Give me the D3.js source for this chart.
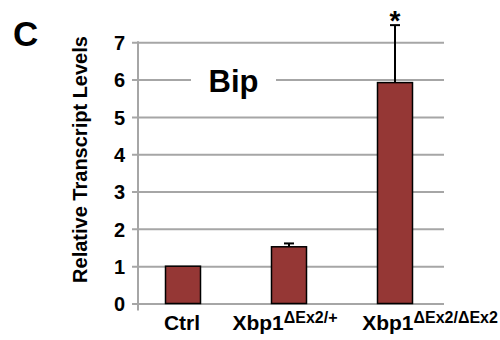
<!DOCTYPE html>
<html>
<head>
<meta charset="utf-8">
<script src="https://cdn.jsdelivr.net/npm/d3@7"></script>
<style>
    body { margin: 0; background: #fff; }
    svg text { font-family: "Liberation Sans", Arial, sans-serif; font-weight: bold; fill: #000; }
</style>
</head>
<body>
<div id="chart"></div>
<script>
// Data
const categories = ['Ctrl', 'Xbp1|ΔEx2/+', 'Xbp1|ΔEx2/ΔEx2'];
const values = [1.0, 1.52, 5.92];
const errors = [0, 0.09, 1.54];
const significant = [false, false, true];
const yTicks = [0, 1, 2, 3, 4, 5, 6, 7];

const cfg = {
    width: 500,
    height: 340,
    plotLeft: 132,
    axisX: 138,
    plotRight: 444,
    top: 42.3,
    bottom: 303.5,
    barWidth: 35,
    barColor: '#953735',
    gridColor: '#a6a6a6',
    // label nudges as laid out in the original figure
    labelDx: [-1, -4, 35],
};

const svg = d3.select('#chart').append('svg')
    .attr('width', cfg.width)
    .attr('height', cfg.height);

// Scales
const y = d3.scaleLinear().domain([0, 7]).range([cfg.bottom, cfg.top]);
const x = d3.scalePoint().domain(categories).range([183, 395]);

// Horizontal grid + tick labels
const grid = svg.append('g')
    .attr('transform', `translate(${cfg.plotLeft},0)`)
    .call(d3.axisLeft(y)
        .tickValues(yTicks)
        .tickFormat(d3.format('d'))
        .tickSize(-(cfg.plotRight - cfg.plotLeft))
        .tickPadding(7));
grid.select('.domain').remove();
grid.selectAll('line').attr('stroke', cfg.gridColor).attr('stroke-width', 2);
grid.selectAll('text').style('font-size', '20px').attr('dy', '0.36em');

// Vertical axis line
svg.append('line')
    .attr('x1', cfg.axisX).attr('x2', cfg.axisX)
    .attr('y1', y(7) - 1).attr('y2', y(0) + 7)
    .attr('stroke', cfg.gridColor).attr('stroke-width', 2);

// Title over the grid with white backing
svg.append('rect')
    .attr('x', 191).attr('y', y(6) - 3)
    .attr('width', 85).attr('height', 6)
    .attr('fill', '#fff');
svg.append('text')
    .attr('x', 233.5).attr('y', 91.7)
    .attr('text-anchor', 'middle')
    .style('font-size', '31px')
    .text('Bip');

// Bars
const items = categories.map((c, i) => ({key: c, value: values[i], err: errors[i], sig: significant[i]}));

const itemg = svg.selectAll('.itemgroup')
    .data(items)
    .enter().append('g')
    .attr('class', 'itemgroup')
    .attr('transform', d => `translate(${x(d.key)},0)`);

itemg.append('rect')
    .attr('x', -cfg.barWidth / 2)
    .attr('y', d => y(d.value))
    .attr('width', cfg.barWidth)
    .attr('height', d => y(0) - y(d.value))
    .attr('fill', cfg.barColor)
    .attr('stroke', '#000')
    .attr('stroke-width', 1.5);

// Error bars
const errg = itemg.filter(d => d.err > 0);
errg.append('line')
    .attr('x1', 0).attr('x2', 0)
    .attr('y1', d => y(d.value))
    .attr('y2', d => y(d.value + d.err))
    .attr('stroke', '#000').attr('stroke-width', 2);
errg.append('line')
    .attr('x1', -5).attr('x2', 5)
    .attr('y1', d => y(d.value + d.err))
    .attr('y2', d => y(d.value + d.err))
    .attr('stroke', '#000').attr('stroke-width', 2);

// Significance marker
itemg.filter(d => d.sig).append('text')
    .attr('x', 0)
    .attr('y', d => y(d.value + d.err) + 5)
    .attr('text-anchor', 'middle')
    .style('font-size', '28px')
    .text('*');

// Category labels
const labels = svg.selectAll('.xlabel')
    .data(categories)
    .enter().append('text')
    .attr('class', 'xlabel')
    .attr('x', (d, i) => x(d) + cfg.labelDx[i])
    .attr('y', 330)
    .attr('text-anchor', 'middle')
    .style('font-size', '21px');
labels.each(function(d) {
    const parts = d.split('|');
    const t = d3.select(this);
    t.append('tspan').text(parts[0]);
    if (parts[1]) t.append('tspan').style('font-size', '16px').attr('dy', -7.5).text(parts[1]);
});

// Y axis title
svg.append('text')
    .attr('transform', `translate(87,159.5) rotate(-90)`)
    .attr('text-anchor', 'middle')
    .style('font-size', '20px')
    .text('Relative Transcript Levels');

// Panel letter
svg.append('text')
    .attr('x', 13).attr('y', 46)
    .style('font-size', '35px')
    .text('C');
</script>
</body>
</html>
